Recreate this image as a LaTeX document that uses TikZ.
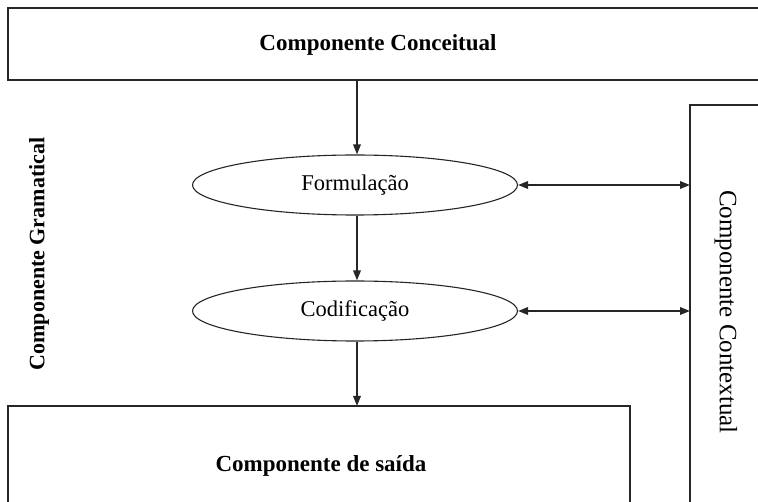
\documentclass[tikz,border=0pt]{standalone}
\usepackage{fontspec}
\setmainfont{Liberation Serif}
\usetikzlibrary{arrows.meta,shapes.geometric}
\begin{document}
\begin{tikzpicture}[x=1pt,y=-1pt,
  boxline/.style={draw=black!85,line width=2pt},
  ell/.style={draw=black!85,line width=1.1pt,ellipse,minimum width=325pt,minimum height=60pt,inner sep=0pt,font=\fontsize{22.5}{26}\selectfont},
  conn/.style={draw=black!85,line width=1.8pt,-{Triangle[length=10pt,width=7.5pt]}},
  dconn/.style={draw=black!85,line width=1.8pt,{Triangle[length=10pt,width=7.5pt]}-{Triangle[length=10pt,width=7.5pt]}},
  lab/.style={font=\fontsize{23}{26}\selectfont\bfseries},
  rlab/.style={font=\fontsize{25}{28}\selectfont}]
\useasboundingbox (0,0) rectangle (758,502);
% boxes (open at the picture edges)
\draw[boxline] (770,80) -- (8,80) -- (8,8) -- (770,8);
\node[lab] (top) at (378,45) {Componente Conceitual};
\coordinate (topb) at (357,80);
\draw[boxline] (8,515) -- (8,406) -- (630,406) -- (630,515);
\node[lab] (bot) at (321,466) {Componente de saída};
\coordinate (bott) at (357,406);
\draw[boxline] (690,515) -- (690,105) -- (770,105);
\coordinate (r1) at (690,185);
\coordinate (r2) at (690,311);
\node[rlab,rotate=-90] (ctx) at (726,312) {Componente Contextual};
\node[lab,font=\fontsize{22}{26}\selectfont\bfseries,rotate=90] (gram) at (39,254) {Componente Gramatical};
% ellipses
\node[ell] (form) at (355,185) {Formulação};
\node[ell] (cod) at (355,311) {Codificação};
% connectors
\draw[conn] (topb) -- (form.north -| topb);
\draw[conn] (form.south -| topb) -- (cod.north -| topb);
\draw[conn] (cod.south -| topb) -- (bott);
\draw[dconn] (form.east) -- (r1);
\draw[dconn] (cod.east) -- (r2);
\end{tikzpicture}
\end{document}
